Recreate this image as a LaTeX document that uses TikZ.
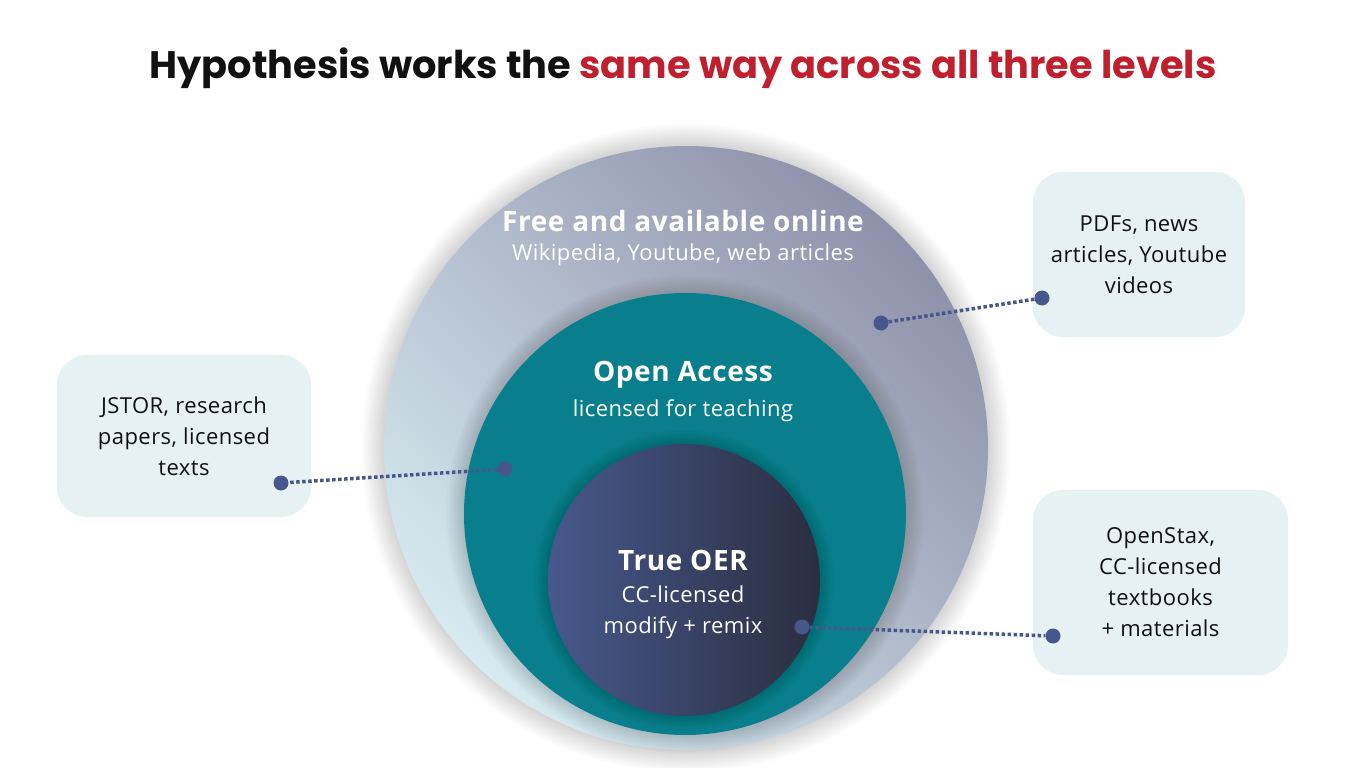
\documentclass[tikz,border=0pt]{standalone}
\usepackage{fontspec}
\setmainfont{Open Sans}[LetterSpace=2]
\newfontfamily\titlefont{Poppins}
\usetikzlibrary{positioning}
\definecolor{tinta}{HTML}{111111}
\definecolor{rojo}{HTML}{C01F2E}
\definecolor{nube}{HTML}{D6EAF0}
\definecolor{lila}{HTML}{8E91AA}
\definecolor{petrol}{HTML}{097F8D}
\definecolor{indigo}{HTML}{47588C}
\definecolor{noche}{HTML}{2A2E40}
\definecolor{hielo}{HTML}{E5F1F3}
\definecolor{punto}{HTML}{47578C}
\tikzset{
  caja/.style={fill=hielo, rounded corners=30pt, align=center, text=tinta, font=\fontsize{22}{31}\selectfont},
  head/.style={text=white, font=\bfseries\fontsize{28}{34}\selectfont},
  sub/.style={text=white, align=center, font=\fontsize{22}{31}\selectfont},
  dot/.style={circle, fill=punto, inner sep=0pt, minimum size=15pt},
  link/.style={punto, line width=3.5pt, dash pattern=on 3.5pt off 2.5pt},
  halo/.style={black, opacity=0.01},
}

\begin{document}
\begin{tikzpicture}[x=1pt, y=-1pt]
  \useasboundingbox[fill=white] (0,0) rectangle (1366,768);
  % title
  \node[font=\titlefont\bfseries\fontsize{38.3}{42}\selectfont, text=tinta] (title) at (683,68)
    {Hypothesis works the \textcolor{rojo}{same way across all three levels}};
  % outer level
  \foreach \k in {1,...,14} \fill[halo] (686,448) circle ({302pt+\k*1.6pt});
  \shade[bottom color=nube, top color=lila, shading angle=-45] (686,448) circle (302pt);
  % open access level
  \foreach \k in {1,...,12} \fill[halo, opacity=0.01] (685,514) circle ({221pt+\k*1.5pt});
  \fill[petrol] (685,514) circle (221pt);
  % true OER level
  \foreach \k in {1,...,10} \fill[halo, opacity=0.015] (684,580) circle ({136pt+\k*1.4pt});
  \shade[left color=indigo, right color=noche] (684,580) circle (136pt);
  % labels
  \node[head] (freeT) at (683,221) {Free and available online};
  \node[sub] (freeS) at (683,255) {Wikipedia, Youtube, web articles};
  \node[head] (openT) at (683,375) {Open Access};
  \node[sub] (openS) at (683,411) {licensed for teaching};
  \node[head] (oerT) at (683,560) {True OER};
  \node[sub] (oerS) at (683,612) {CC-licensed\\modify + remix};
  % example boxes
  \node[caja, minimum width=212pt, minimum height=165pt] (boxFree) at (1139,254.5)
    {PDFs, news\\articles, Youtube\\videos};
  \node[caja, minimum width=254pt, minimum height=162pt] (boxOpen) at (184,436)
    {JSTOR, research\\papers, licensed\\texts};
  \node[caja, minimum width=255pt, minimum height=185pt] (boxOER) at (1160.5,582.5)
    {OpenStax,\\CC-licensed\\textbooks\\+ materials};
  % pointers
  \node[dot] (pFree) at (881,323) {};
  \node[dot] (qFree) at (1042,298) {};
  \node[dot] (pOpen) at (505,469) {};
  \node[dot] (qOpen) at (281,483) {};
  \node[dot] (pOER) at (802,627) {};
  \node[dot] (qOER) at (1053,636) {};
  \draw[link] (pFree) -- (qFree);
  \draw[link] (pOpen) -- (qOpen);
  \draw[link] (pOER) -- (qOER);
\end{tikzpicture}
\end{document}
